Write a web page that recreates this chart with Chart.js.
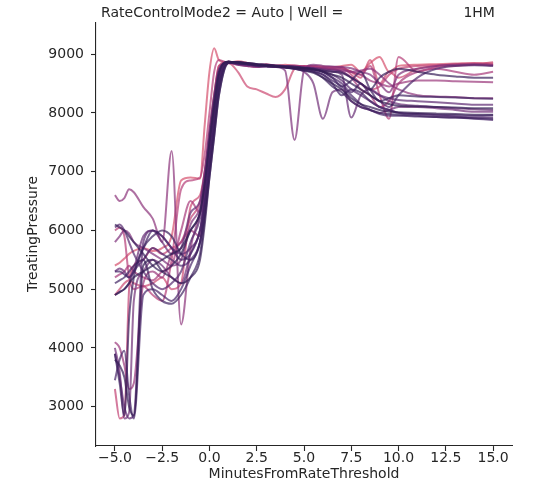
<!DOCTYPE html>
<html>
<head>
<meta charset="utf-8">
<script src="https://cdn.jsdelivr.net/npm/chart.js@4.4.1/dist/chart.umd.min.js"></script>
<style>
    html, body { margin: 0; padding: 0; background: #fff; }
</style>
</head>
<body>
<canvas id="chart" width="534" height="492"></canvas>
<script>
const TITLE = "RateControlMode2 = Auto | Well =                           1HM";
const X_LABEL = "MinutesFromRateThreshold";
const Y_LABEL = "TreatingPressure";

const X_TICKS = [-5, -2.5, 0, 2.5, 5, 7.5, 10, 12.5, 15];
const Y_TICKS = [3000, 4000, 5000, 6000, 7000, 8000, 9000];

// shared time grid for every well (minutes from rate threshold)
const MINUTES = [-5, -4.75, -4.5, -4.25, -4, -3.5, -3, -2.5, -2, -1.5, -1, -0.5, -0.25,
    0, 0.25, 0.5, 1, 1.5, 2, 2.5, 3, 3.5, 4, 4.5, 5, 5.5, 6, 6.5,
    7, 7.5, 8, 8.5, 9, 9.5, 10, 11, 12, 13, 14, 15];

// one pressure trace per stage, pink -> dark purple
const P01 = [5400, 5450, 5520, 5600, 5650, 5700, 5650, 5700, 5900, 6850, 6900, 6880, 7800, 8700, 9100, 8900, 8850, 8880, 8850, 8800, 8820, 8800, 8820, 8800, 8780, 8800, 8790, 8780, 8800, 8820, 8700, 8850, 8950, 8700, 8800, 8820, 8830, 8840, 8850, 8840];
const P02 = [4900, 5000, 5100, 5150, 5100, 5050, 5100, 5200, 5000, 5100, 6400, 6600, 7000, 7600, 8300, 8800, 8850, 8700, 8450, 8400, 8330, 8270, 8400, 8750, 8800, 8780, 8760, 8750, 8760, 8700, 8600, 8900, 8500, 8700, 8600, 8750, 8800, 8820, 8830, 8860];
const P03 = [3300, 2800, 2850, 5000, 5400, 5500, 5700, 5600, 5700, 5800, 6200, 6500, 7000, 7700, 8300, 8800, 8870, 8850, 8830, 8800, 8820, 8810, 8800, 8790, 8800, 8790, 8780, 8770, 8780, 8650, 8500, 8400, 8450, 8650, 8750, 8800, 8810, 8830, 8840, 8820];
const P04 = [6000, 6050, 5900, 5200, 5000, 5050, 4900, 4800, 5500, 6700, 6850, 6900, 7300, 8000, 8700, 8900, 8850, 8850, 8850, 8820, 8830, 8800, 8800, 8810, 8790, 8800, 8770, 8780, 8760, 8700, 8650, 8800, 8300, 7900, 8950, 8700, 8780, 8800, 8820, 8810];
const P05 = [5200, 5250, 5300, 5400, 5300, 5200, 5150, 5300, 5400, 6000, 6500, 6300, 6700, 7400, 8000, 8600, 8860, 8830, 8800, 8780, 8800, 8790, 8800, 8780, 8770, 8780, 8760, 8750, 8700, 8600, 8400, 8300, 8100, 8200, 8500, 8700, 8750, 8700, 8650, 8700];
const P06 = [4100, 4000, 3700, 3300, 3400, 5100, 5300, 5200, 5600, 5800, 6000, 5900, 6600, 7300, 7900, 8500, 8850, 8860, 8820, 8800, 8810, 8800, 8790, 8780, 8790, 8770, 8760, 8740, 8720, 8700, 8650, 8550, 8500, 8450, 8500, 8550, 8550, 8540, 8530, 8520];
const P07 = [6600, 6500, 6550, 6700, 6650, 6400, 6200, 5800, 7350, 4400, 5700, 6300, 6800, 7500, 8100, 8600, 8850, 8820, 8800, 8810, 8800, 8790, 8780, 8790, 8780, 8770, 8760, 8750, 8740, 8700, 8720, 8750, 8650, 8500, 8400, 8300, 8280, 8270, 8250, 8250];
const P08 = [5800, 5900, 6000, 5950, 5800, 5700, 5600, 5500, 5400, 5500, 6100, 6400, 6900, 7600, 8200, 8700, 8860, 8820, 8800, 8780, 8800, 8780, 8720, 7540, 8720, 8820, 8800, 8790, 8780, 8760, 8700, 8650, 8500, 8350, 8650, 8750, 8800, 8820, 8830, 8820];
const P09 = [4000, 3600, 2800, 2900, 4800, 5300, 5500, 5400, 5200, 5100, 5600, 6000, 6500, 7200, 7900, 8500, 8870, 8850, 8830, 8810, 8800, 8790, 8780, 8760, 8700, 8500, 7900, 8350, 8400, 8200, 8100, 8050, 8000, 8050, 8100, 8100, 8080, 8050, 8020, 8020];
const P10 = [5300, 5350, 5300, 5200, 5350, 5900, 6000, 5800, 5600, 5700, 6300, 6500, 7000, 7700, 8300, 8750, 8860, 8830, 8820, 8810, 8800, 8790, 8800, 8780, 8760, 8750, 8720, 8700, 8650, 7920, 8300, 8400, 8300, 8200, 8150, 8120, 8100, 8080, 8060, 8050];
const P11 = [3900, 3500, 3000, 2800, 2850, 5800, 6000, 5900, 5700, 5600, 5700, 6000, 6600, 7300, 8000, 8600, 8860, 8840, 8820, 8810, 8800, 8800, 8790, 8780, 8770, 8760, 8740, 8720, 8700, 8600, 8500, 8400, 8300, 8250, 8220, 8200, 8180, 8160, 8140, 8140];
const P12 = [6050, 6100, 6000, 5800, 5600, 5300, 5100, 5000, 5100, 5300, 5800, 6200, 6700, 7400, 8000, 8600, 8870, 8840, 8820, 8800, 8790, 8780, 8770, 8760, 8750, 8740, 8700, 8650, 8550, 8400, 8300, 8200, 8100, 8050, 8000, 7980, 7960, 7940, 7920, 7920];
const P13 = [4900, 4950, 5000, 5100, 5300, 5500, 5700, 5600, 5500, 5400, 5500, 5800, 6300, 7100, 7800, 8500, 8860, 8850, 8830, 8800, 8790, 8800, 8780, 8770, 8760, 8750, 8700, 8600, 8500, 8350, 8500, 8300, 8200, 8100, 8300, 8600, 8750, 8800, 8810, 8800];
const P14 = [3450, 3800, 3950, 3200, 2800, 4900, 5000, 4900, 4800, 5000, 5400, 5800, 6300, 7000, 7700, 8400, 8860, 8860, 8840, 8820, 8800, 8790, 8780, 8770, 8760, 8720, 8650, 8550, 8450, 8300, 8150, 8050, 7980, 7950, 7950, 7940, 7930, 7920, 7900, 7880];
const P15 = [5300, 5300, 5250, 5200, 5300, 5700, 6000, 5900, 5700, 5500, 5600, 6000, 6500, 7200, 7900, 8500, 8870, 8850, 8830, 8810, 8800, 8790, 8780, 8750, 8720, 8700, 8650, 8500, 8300, 8400, 8350, 8200, 8100, 8050, 8000, 7980, 7970, 7960, 7950, 7960];
const P16 = [5100, 5150, 5200, 5300, 5400, 5500, 5000, 4800, 4750, 4900, 5200, 5600, 6200, 6900, 7600, 8300, 8850, 8860, 8850, 8830, 8820, 8810, 8800, 8790, 8770, 8750, 8700, 8600, 8450, 8550, 8700, 8400, 8200, 8250, 8300, 8280, 8270, 8260, 8250, 8240];
const P17 = [3900, 3400, 2850, 4500, 5200, 5700, 5900, 6000, 5900, 5600, 5500, 5800, 6400, 7100, 7800, 8450, 8870, 8860, 8840, 8830, 8810, 8800, 8780, 8760, 8740, 8700, 8600, 8450, 8350, 8200, 8100, 8050, 8000, 7980, 7970, 7950, 7930, 7920, 7910, 7900];
const P18 = [6100, 6050, 6000, 5900, 5800, 5600, 5400, 5300, 5400, 5600, 6000, 6300, 6800, 7500, 8200, 8700, 8870, 8840, 8830, 8810, 8800, 8790, 8780, 8770, 8760, 8740, 8720, 8700, 8680, 8600, 8500, 8400, 8600, 8700, 8750, 8700, 8650, 8620, 8600, 8600];
const P19 = [3800, 3700, 3500, 3000, 2850, 5400, 5500, 5300, 5200, 5100, 5200, 5500, 6100, 6900, 7600, 8300, 8850, 8860, 8840, 8820, 8800, 8790, 8770, 8750, 8720, 8680, 8600, 8500, 8400, 8250, 8150, 8100, 8050, 8020, 8010, 8000, 7990, 7980, 7970, 7970];
const P20 = [4900, 4950, 5000, 5100, 5200, 5300, 5400, 5500, 5600, 5700, 6000, 6300, 6800, 7500, 8100, 8650, 8870, 8860, 8850, 8830, 8820, 8800, 8780, 8770, 8760, 8740, 8700, 8650, 8600, 8500, 8400, 8300, 8200, 8150, 8120, 8110, 8100, 8090, 8080, 8080];

const SERIES = [P01, P02, P03, P04, P05, P06, P07, P08, P09, P10,
    P11, P12, P13, P14, P15, P16, P17, P18, P19, P20];

const COLORS = ["#d5506c", "#cc4870", "#c24274", "#b53d77", "#a8397a", "#9a367b", "#8c337b", "#7e317a", "#712f78", "#662c75",
    "#5c2a72", "#55296f", "#4f286c", "#492669", "#442466", "#402362", "#3c215e", "#381f5a", "#351d56", "#321c52"];

const INK = "#262626";
const FONT = "'DejaVu Sans', sans-serif";
Chart.defaults.font.family = FONT;
Chart.defaults.font.size = 14;
Chart.defaults.color = INK;

const fmtX = v => (v < 0 ? "\u2212" : "") + Math.abs(v).toFixed(1);

// title and axis labels placed like the matplotlib figure
const labelsPlugin = {
    id: "labels",
    afterDraw(chart) {
        const ctx = chart.ctx;
        ctx.save();
        ctx.fillStyle = INK;
        ctx.font = "14px " + FONT;
        ctx.textAlign = "center";
        ctx.textBaseline = "middle";
        ctx.fillText(TITLE, 298, 13);
        ctx.fillText(X_LABEL, 304, 474);
        ctx.translate(33, 234);
        ctx.rotate(-Math.PI / 2);
        ctx.fillText(Y_LABEL, 0, 0);
        ctx.restore();
    },
};

new Chart(document.getElementById("chart"), {
    type: "line",
    data: {
        datasets: SERIES.map((ys, i) => ({
            data: ys.map((y, j) => ({ x: MINUTES[j], y })),
            borderColor: COLORS[i] + "b3",
            borderWidth: 2,
            pointRadius: 0,
            cubicInterpolationMode: "monotone",
            fill: false,
            order: SERIES.length - i, // darker traces end up on top
        })),
    },
    options: {
        responsive: false,
        animation: false,
        layout: { padding: { left: 0, top: 23, right: 22, bottom: 0 } },
        plugins: { legend: { display: false }, tooltip: { enabled: false } },
        scales: {
            x: {
                type: "linear", min: -6, max: 16,
                afterFit: s => { s.height = 46; },
                afterBuildTicks: s => { s.ticks = X_TICKS.map(v => ({ value: v })); },
                grid: { drawOnChartArea: false, tickLength: 5, color: INK, tickWidth: 1.1 },
                border: { color: INK, width: 1.1 },
                ticks: { padding: -1, maxRotation: 0, autoSkip: false, callback: v => fmtX(v) },
            },
            y: {
                type: "linear", min: 2330, max: 9530,
                afterFit: s => { s.width = 96; },
                afterBuildTicks: s => { s.ticks = Y_TICKS.map(v => ({ value: v })); },
                grid: { drawOnChartArea: false, tickLength: 5, color: INK, tickWidth: 1.1 },
                border: { color: INK, width: 1.1 },
                ticks: { padding: 7, autoSkip: false, callback: v => String(v) },
            },
        },
    },
    plugins: [labelsPlugin],
});
</script>
</body>
</html>
